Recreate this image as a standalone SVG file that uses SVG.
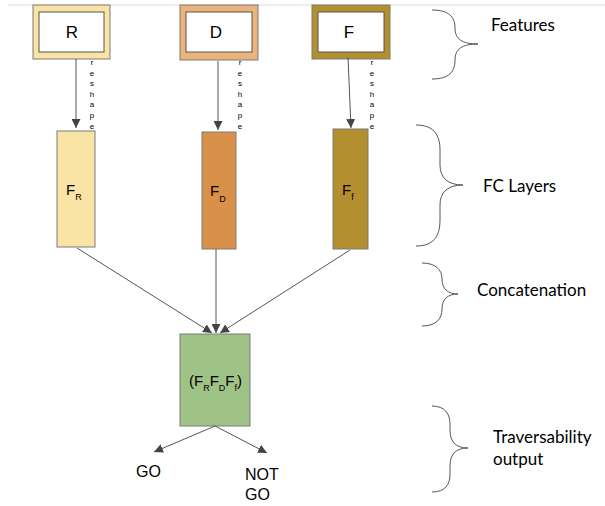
<svg xmlns="http://www.w3.org/2000/svg" width="605" height="506" viewBox="0 0 605 506">
<defs>
<style>
.box{stroke:#7a7a7a;stroke-width:1}
.inner{fill:#ffffff;stroke:#555;stroke-width:1}
.lbl{font-family:"Liberation Sans",Arial,sans-serif;fill:#000}
.side{font-family:Lato,"Noto Sans",sans-serif;font-size:17px;fill:#000}
.conn{stroke:#555;stroke-width:1;fill:none}
.brace{stroke:#555;stroke-width:1;fill:none}
.rs{font-family:"Liberation Sans",Arial,sans-serif;font-size:8px;fill:#000}
</style>
<marker id="ah" viewBox="0 0 10 10" refX="10" refY="5" markerWidth="9" markerHeight="9" markerUnits="userSpaceOnUse" orient="auto">
<path d="M0,0 L10,5 L0,10 z" fill="#444"/>
</marker>
</defs>
<rect width="605" height="506" fill="#fff"/>
<line x1="8" y1="5" x2="605" y2="5" stroke="#dcdcdc" stroke-width="1"/>

<g id="feat-R">
<rect class="box" x="33" y="5" width="77" height="54" fill="#F9E4A6"/>
<rect class="inner" x="39" y="12" width="65" height="40"/>
<text class="lbl" x="72" y="38" font-size="17" text-anchor="middle">R</text>
</g>
<g id="feat-D">
<rect class="box" x="180" y="5" width="78" height="55" fill="#EBB47C"/>
<rect class="inner" x="186" y="12" width="66" height="40"/>
<text class="lbl" x="216" y="38" font-size="17" text-anchor="middle">D</text>
</g>
<g id="feat-F">
<rect class="box" x="312" y="5" width="78" height="54" fill="#B48F30"/>
<rect class="inner" x="318" y="12" width="66" height="40"/>
<text class="lbl" x="349" y="38" font-size="17" text-anchor="middle">F</text>
</g>

<g id="fc-R">
<rect class="box" x="57" y="131" width="38" height="116" fill="#F9E4A6"/>
<text class="lbl" x="66" y="195" font-size="15">F<tspan font-size="9" dy="5">R</tspan></text>
</g>
<g id="fc-D">
<rect class="box" x="202" y="132" width="34" height="117" fill="#D9914A"/>
<text class="lbl" x="210" y="196" font-size="15">F<tspan font-size="9" dy="6">D</tspan></text>
</g>
<g id="fc-F">
<rect class="box" x="333" y="129" width="35" height="120" fill="#B48F30"/>
<text class="lbl" x="342" y="195" font-size="15">F<tspan font-size="9" dy="5">f</tspan></text>
</g>

<g id="concat">
<rect class="box" x="180" y="334" width="70" height="92" fill="#9FC386"/>
<text class="lbl" x="189" y="386" font-size="15">(F<tspan font-size="9" dy="5">R</tspan><tspan dy="-5">F</tspan><tspan font-size="9" dy="5">D</tspan><tspan dy="-5">F</tspan><tspan font-size="9" dy="5">f</tspan><tspan dy="-5">)</tspan></text>
</g>

<g id="out-go">
<text class="lbl" x="136" y="477" font-size="16">GO</text>
</g>
<g id="out-notgo">
<text class="lbl" x="245" y="480" font-size="16">NOT</text>
<text class="lbl" x="245" y="500" font-size="16">GO</text>
</g>

<g id="connectors">
<line class="conn" x1="76" y1="59" x2="76" y2="128" marker-end="url(#ah)"/>
<line class="conn" x1="218" y1="61" x2="218" y2="130" marker-end="url(#ah)"/>
<line class="conn" x1="348" y1="57" x2="351" y2="128" marker-end="url(#ah)"/>
<line class="conn" x1="77" y1="248" x2="212" y2="333" marker-end="url(#ah)"/>
<line class="conn" x1="216" y1="249" x2="216" y2="333" marker-end="url(#ah)"/>
<line class="conn" x1="350" y1="250" x2="220" y2="333" marker-end="url(#ah)"/>
<line class="conn" x1="215" y1="426" x2="154" y2="452" marker-end="url(#ah)"/>
<line class="conn" x1="215" y1="426" x2="267" y2="453" marker-end="url(#ah)"/>
<g class="rs" text-anchor="middle">
<text x="92" y="65">r</text><text x="92" y="76">e</text><text x="92" y="86">s</text><text x="92" y="97">h</text><text x="92" y="107">a</text><text x="92" y="118">p</text><text x="92" y="129">e</text>
<text x="240" y="65">r</text><text x="240" y="76">e</text><text x="240" y="86">s</text><text x="240" y="97">h</text><text x="240" y="107">a</text><text x="240" y="118">p</text><text x="240" y="129">e</text>
<text x="372" y="65">r</text><text x="372" y="76">e</text><text x="372" y="86">s</text><text x="372" y="97">h</text><text x="372" y="107">a</text><text x="372" y="118">p</text><text x="372" y="129">e</text>
</g>
</g>

<g id="brace-features">
<path class="brace" d="M432,10 C449,10 455,17 455,28 C455,39 462,44 478,44 C462,44 455,49 455,60 C455,72 449,79 432,79"/>
<text class="side" x="491" y="31">Features</text>
</g>
<g id="brace-fc">
<path class="brace" d="M416,125 C433,125 440,134 440,150 L440,165 C440,178 448,185 463,185 C448,185 440,192 440,205 L440,220 C440,237 433,246 416,246"/>
<text class="side" x="483" y="192">FC Layers</text>
</g>
<g id="brace-concat">
<path class="brace" d="M422,263 C436,263 442,270 442,279 C442,289 448,294 458,294 C448,294 442,299 442,309 C442,319 436,326 422,326"/>
<text class="side" x="477" y="296">Concatenation</text>
</g>
<g id="brace-trav">
<path class="brace" d="M432,406 C445,406 450,414 450,424 L450,430 C450,442 456,448 468,448 C456,448 450,454 450,466 L450,474 C450,485 445,492 432,492"/>
<text class="side" x="493" y="443">Traversability</text>
<text class="side" x="493" y="465">output</text>
</g>
</svg>
